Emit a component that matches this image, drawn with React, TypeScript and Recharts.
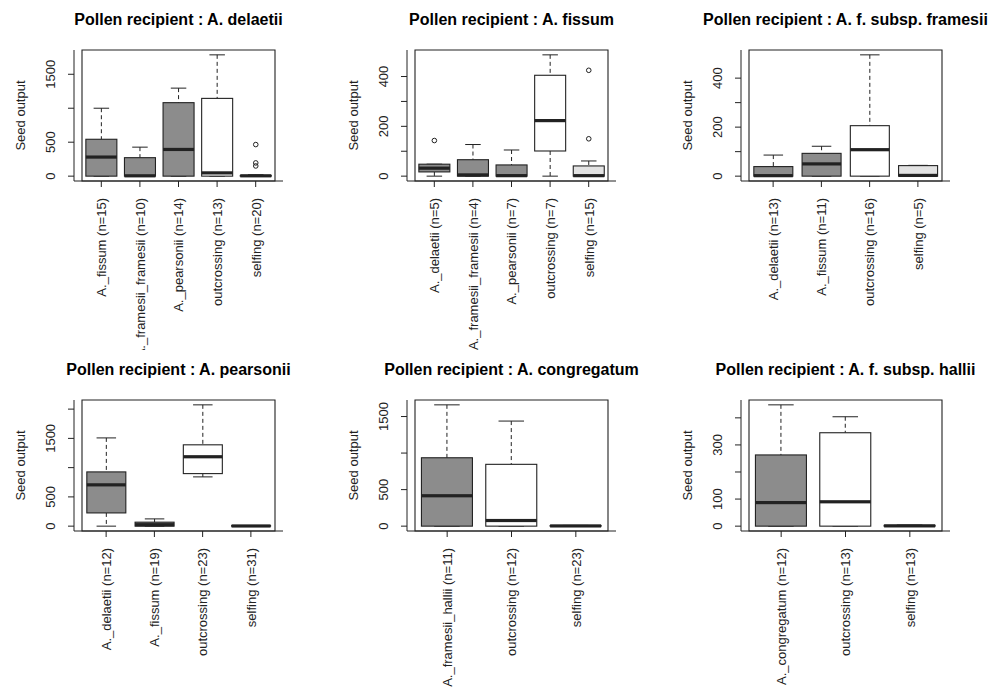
import { ComposedChart, Bar, XAxis, YAxis, ReferenceArea } from 'recharts';

// box fills used by R boxplot
const GRAY = '#8c8c8c';
const LIGHT = '#e2e2e2';
const WHITE = '#ffffff';
const INK = '#222222';
const FONT = '"Liberation Sans", Arial, Helvetica, sans-serif';

// ---- Pollen recipient : A. delaetii
const delaetiiCats = ['A._fissum (n=15)', 'A._framesii_framesii (n=10)', 'A._pearsonii (n=14)', 'outcrossing (n=13)', 'selfing (n=20)'];
const delaetiiLower = [0, 0, 0, 0, 0];
const delaetiiQ1 = [0, 0, 0, 0, 0];
const delaetiiMedian = [281, 5, 393, 48, 5];
const delaetiiQ3 = [543, 272, 1082, 1145, 10];
const delaetiiUpper = [1000, 427, 1296, 1786, 20];
const delaetiiOutliers = [[], [], [], [], [465, 195, 150]];
const delaetiiFills = [GRAY, GRAY, GRAY, WHITE, LIGHT];
const delaetiiTicks = [0, 500, 1000, 1500];
const delaetiiTickLabels = ['0', '500', '', '1500'];

// ---- Pollen recipient : A. fissum
const fissumCats = ['A._delaetii (n=5)', 'A._framesii_framesii (n=4)', 'A._pearsonii (n=7)', 'outcrossing (n=7)', 'selfing (n=15)'];
const fissumLower = [0, 0, 0, 0, 0];
const fissumQ1 = [17, 0, 0, 101, 0];
const fissumMedian = [32, 5, 2, 223, 2];
const fissumQ3 = [48, 66, 45, 405, 41];
const fissumUpper = [48, 127, 105, 487, 61];
const fissumOutliers = [[143], [], [], [], [425, 150]];
const fissumFills = [GRAY, GRAY, GRAY, WHITE, LIGHT];
const fissumTicks = [0, 100, 200, 300, 400];
const fissumTickLabels = ['0', '', '200', '', '400'];

// ---- Pollen recipient : A. f. subsp. framesii
const framesiiCats = ['A._delaetii (n=13)', 'A._fissum (n=11)', 'outcrossing (n=16)', 'selfing (n=5)'];
const framesiiLower = [0, 0, 0, 0];
const framesiiQ1 = [0, 0, 0, 0];
const framesiiMedian = [2, 50, 108, 3];
const framesiiQ3 = [39, 93, 206, 43];
const framesiiUpper = [86, 122, 495, 44];
const framesiiOutliers = [[], [], [], []];
const framesiiFills = [GRAY, GRAY, WHITE, LIGHT];
const framesiiTicks = [0, 100, 200, 300, 400];
const framesiiTickLabels = ['0', '', '200', '', '400'];

// ---- Pollen recipient : A. pearsonii
const pearsoniiCats = ['A._delaetii (n=12)', 'A._fissum (n=19)', 'outcrossing (n=23)', 'selfing (n=31)'];
const pearsoniiLower = [0, 0, 842, 0];
const pearsoniiQ1 = [226, 0, 898, 0];
const pearsoniiMedian = [706, 25, 1186, 3];
const pearsoniiQ3 = [927, 68, 1390, 8];
const pearsoniiUpper = [1508, 124, 2073, 10];
const pearsoniiOutliers = [[], [], [], []];
const pearsoniiFills = [GRAY, GRAY, WHITE, LIGHT];
const pearsoniiTicks = [0, 500, 1000, 1500, 2000];
const pearsoniiTickLabels = ['0', '500', '', '1500', ''];

// ---- Pollen recipient : A. congregatum
const congregatumCats = ['A._framesii_hallii (n=11)', 'outcrossing (n=12)', 'selfing (n=23)'];
const congregatumLower = [0, 0, 0];
const congregatumQ1 = [0, 0, 0];
const congregatumMedian = [416, 77, 3];
const congregatumQ3 = [936, 846, 8];
const congregatumUpper = [1660, 1438, 10];
const congregatumOutliers = [[], [], []];
const congregatumFills = [GRAY, WHITE, LIGHT];
const congregatumTicks = [0, 500, 1000, 1500];
const congregatumTickLabels = ['0', '500', '', '1500'];

// ---- Pollen recipient : A. f. subsp. hallii
const halliiCats = ['A._congregatum (n=12)', 'outcrossing (n=13)', 'selfing (n=13)'];
const halliiLower = [0, 0, 0];
const halliiQ1 = [0, 0, 0];
const halliiMedian = [87, 90, 1];
const halliiQ3 = [263, 345, 3];
const halliiUpper = [448, 404, 4];
const halliiOutliers = [[], [], []];
const halliiFills = [GRAY, WHITE, LIGHT];
const halliiTicks = [0, 100, 200, 300, 400];
const halliiTickLabels = ['0', '100', '', '300', ''];

const buildRows = (cats: string[], lower: number[], q1: number[], med: number[], q3: number[], upper: number[], outliers: number[][], fills: string[]) =>
  cats.map((name, i) => ({
    name,
    fill: fills[i],
    lw: [lower[i], q1[i]],
    box: [q1[i], q3[i]],
    med: [med[i], med[i]],
    uw: [q3[i], upper[i]],
    o0: outliers[i][0] != null ? [outliers[i][0], outliers[i][0]] : null,
    o1: outliers[i][1] != null ? [outliers[i][1], outliers[i][1]] : null,
    o2: outliers[i][2] != null ? [outliers[i][2], outliers[i][2]] : null,
    top: Math.max(upper[i], ...outliers[i]),
  }));

const panels = [
  { title: 'Pollen recipient : A. delaetii', rows: buildRows(delaetiiCats, delaetiiLower, delaetiiQ1, delaetiiMedian, delaetiiQ3, delaetiiUpper, delaetiiOutliers, delaetiiFills), ticks: delaetiiTicks, labels: delaetiiTickLabels },
  { title: 'Pollen recipient : A. fissum', rows: buildRows(fissumCats, fissumLower, fissumQ1, fissumMedian, fissumQ3, fissumUpper, fissumOutliers, fissumFills), ticks: fissumTicks, labels: fissumTickLabels },
  { title: 'Pollen recipient : A. f. subsp. framesii', rows: buildRows(framesiiCats, framesiiLower, framesiiQ1, framesiiMedian, framesiiQ3, framesiiUpper, framesiiOutliers, framesiiFills), ticks: framesiiTicks, labels: framesiiTickLabels },
  { title: 'Pollen recipient : A. pearsonii', rows: buildRows(pearsoniiCats, pearsoniiLower, pearsoniiQ1, pearsoniiMedian, pearsoniiQ3, pearsoniiUpper, pearsoniiOutliers, pearsoniiFills), ticks: pearsoniiTicks, labels: pearsoniiTickLabels },
  { title: 'Pollen recipient : A. congregatum', rows: buildRows(congregatumCats, congregatumLower, congregatumQ1, congregatumMedian, congregatumQ3, congregatumUpper, congregatumOutliers, congregatumFills), ticks: congregatumTicks, labels: congregatumTickLabels },
  { title: 'Pollen recipient : A. f. subsp. hallii', rows: buildRows(halliiCats, halliiLower, halliiQ1, halliiMedian, halliiQ3, halliiUpper, halliiOutliers, halliiFills), ticks: halliiTicks, labels: halliiTickLabels },
];

const CHART_W = 322;
const PAD = { left: 8, right: 8 };

const span = (p: any) => {
  const top = Math.min(p.y, p.y + p.height);
  return { top, bottom: top + Math.abs(p.height), cx: p.x + p.width / 2 };
};

const BoxShape = (p: any) => {
  const { top, bottom } = span(p);
  return <rect x={p.x} y={top} width={p.width} height={bottom - top} fill={p.payload.fill} stroke={INK} strokeWidth={1.1} />;
};

const MedianShape = (p: any) => {
  const { top } = span(p);
  return <rect x={p.x} y={top - 1.6} width={p.width} height={3.2} fill={INK} />;
};

const UpperWhisker = (p: any) => {
  const { top, bottom, cx } = span(p);
  const q = p.width / 4;
  return (
    <g>
      <line x1={cx} x2={cx} y1={top} y2={bottom} stroke={INK} strokeDasharray="4 3" />
      <line x1={cx - q} x2={cx + q} y1={top} y2={top} stroke={INK} />
    </g>
  );
};

const LowerWhisker = (p: any) => {
  const { top, bottom, cx } = span(p);
  const q = p.width / 4;
  return (
    <g>
      <line x1={cx} x2={cx} y1={top} y2={bottom} stroke={INK} strokeDasharray="4 3" />
      <line x1={cx - q} x2={cx + q} y1={bottom} y2={bottom} stroke={INK} />
    </g>
  );
};

const outlierShape = (key: string) => (p: any) => {
  if (!p.payload || p.payload[key] == null) return <g />;
  const { top, cx } = span(p);
  return <circle cx={cx} cy={top} r={2.3} fill="none" stroke={INK} strokeWidth={1} />;
};

const CatTick = ({ x, y, payload }: any) => (
  <text transform={`translate(${x + 4.8},${y + 9}) rotate(-90)`} textAnchor="end" fontSize={13} fontFamily={FONT} fill={INK}>
    {payload.value}
  </text>
);

const makeYTick = (ticks: number[], labels: string[]) => ({ x, y, payload }: any) => {
  const s = labels[ticks.indexOf(payload.value)];
  if (!s) return <g />;
  return (
    <text transform={`translate(${x - 11},${y}) rotate(-90)`} textAnchor="middle" fontSize={13} fontFamily={FONT} fill={INK}>
      {s}
    </text>
  );
};

const Panel = ({ panel, left, top, height }: any) => {
  const ymax = Math.max(...panel.rows.map((r: any) => r.top));
  const domain = [-0.04 * ymax, 1.04 * ymax];
  const hiddenAxes = ['lw', 'uw', 'med', 'o0', 'o1', 'o2'];
  return (
    <div style={{ position: 'absolute', left, top, width: CHART_W, height }}>
      <ComposedChart width={CHART_W} height={height} data={panel.rows} barCategoryGap="10%"
        margin={{ top: 50, right: 39, bottom: height - 181 - 150, left: 34 }}>
        <XAxis xAxisId="box" dataKey="name" type="category" interval={0} padding={PAD} height={150}
          tick={<CatTick />} tickSize={6} tickLine={{ stroke: INK }} axisLine={{ stroke: INK }} />
        {hiddenAxes.map((id) => (
          <XAxis key={id} xAxisId={id} dataKey="name" type="category" hide height={0} padding={PAD} />
        ))}
        <YAxis type="number" domain={domain} allowDataOverflow ticks={panel.ticks} interval={0} width={40}
          tick={makeYTick(panel.ticks, panel.labels)} tickSize={6} tickLine={{ stroke: INK }} axisLine={{ stroke: INK }} />
        {/* plot frame, like R's box() */}
        <ReferenceArea xAxisId="box" y1={domain[0]} y2={domain[1]} fill="none" stroke={INK} strokeWidth={1.1} ifOverflow="visible" />
        <Bar xAxisId="lw" dataKey="lw" shape={LowerWhisker} isAnimationActive={false} />
        <Bar xAxisId="uw" dataKey="uw" shape={UpperWhisker} isAnimationActive={false} />
        <Bar xAxisId="box" dataKey="box" shape={BoxShape} isAnimationActive={false} />
        <Bar xAxisId="med" dataKey="med" shape={MedianShape} isAnimationActive={false} />
        <Bar xAxisId="o0" dataKey="o0" shape={outlierShape('o0')} isAnimationActive={false} />
        <Bar xAxisId="o1" dataKey="o1" shape={outlierShape('o1')} isAnimationActive={false} />
        <Bar xAxisId="o2" dataKey="o2" shape={outlierShape('o2')} isAnimationActive={false} />
      </ComposedChart>
      <svg width={CHART_W} height={height} style={{ position: 'absolute', left: 0, top: 0, pointerEvents: 'none' }}>
        <text x={178.5} y={24.5} textAnchor="middle" fontSize={16} fontWeight="bold" fontFamily={FONT} fill="#000">
          {panel.title}
        </text>
        <text transform="translate(25,115.5) rotate(-90)" textAnchor="middle" fontSize={13} fontFamily={FONT} fill={INK}>
          Seed output
        </text>
      </svg>
    </div>
  );
};

export default function App() {
  return (
    <div style={{ position: 'absolute', left: 0, top: 0, width: 989, height: 688, overflow: 'hidden', background: '#fff' }}>
      {panels.map((panel, i) => (
        <Panel key={panel.title} panel={panel} left={(i % 3) * 333.33} top={Math.floor(i / 3) * 350}
          height={i < 3 ? 350 : 338} />
      ))}
    </div>
  );
}
